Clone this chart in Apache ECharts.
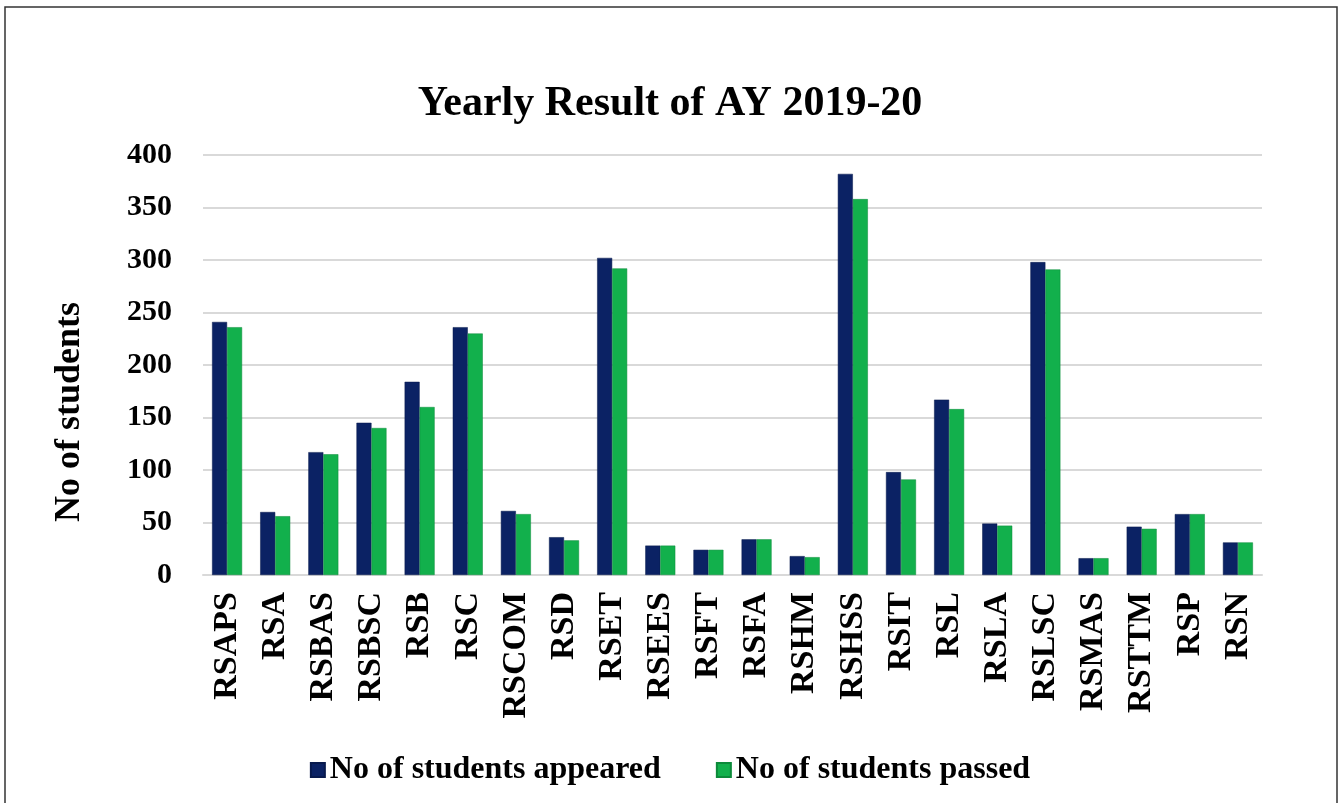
<!DOCTYPE html>
<html>
<head>
<meta charset="utf-8">
<script src="https://cdn.jsdelivr.net/npm/echarts@6/dist/echarts.min.js"></script>
<style>html,body{margin:0;padding:0;background:#fff;}#c{width:1340px;height:803px;}</style>
</head>
<body>
<div id="c"></div>
<script>
const categories = ['RSAPS','RSA','RSBAS','RSBSC','RSB','RSC','RSCOM','RSD','RSET','RSEES','RSFT','RSFA','RSHM','RSHSS','RSIT','RSL','RSLA','RSLSC','RSMAS','RSTTM','RSP','RSN'];
const appeared = [241,60,117,145,184,236,61,36,302,28,24,34,18,382,98,167,49,298,16,46,58,31];
const passed   = [236,56,115,140,160,230,58,33,292,28,24,34,17,358,91,158,47,291,16,44,58,31];
const yTicks = [0,50,100,150,200,250,300,350,400];

const FONT = '"Liberation Serif", "Times New Roman", serif';
const chart = echarts.init(document.getElementById('c'));
chart.setOption({
  backgroundColor: '#fff',
  animation: false,
  title: {
    text: 'Yearly Result of AY 2019-20',
    left: 'center', top: 78,
    textStyle: { fontFamily: FONT, fontWeight: 'bold', fontSize: 42, color: '#000' }
  },
  legend: {
    bottom: 12, left: 'center',
    itemWidth: 14, itemHeight: 14, itemGap: 55, icon: 'rect',
    textStyle: { fontFamily: FONT, fontWeight: 'bold', fontSize: 32, color: '#000' }
  },
  grid: { left: 203, right: 78, top: 155, bottom: 228 },
  xAxis: {
    type: 'category', data: categories,
    axisLine: { show: true, lineStyle: { color: '#d9d9d9', width: 2 } },
    axisTick: { show: false },
    axisLabel: { rotate: 90, margin: 17, interval: 0, fontFamily: FONT, fontWeight: 'bold', fontSize: 34, color: '#000' }
  },
  yAxis: {
    type: 'value', min: yTicks[0], max: yTicks[yTicks.length-1], interval: 50,
    axisLine: { show: false }, axisTick: { show: false },
    axisLabel: { margin: 31, padding: [10, 0, 0, 0], fontFamily: FONT, fontWeight: 'bold', fontSize: 30, color: '#000' },
    splitLine: { lineStyle: { color: '#d9d9d9', width: 2 } }
  },
  graphic: [
    { type: 'rect', shape: { x: 5, y: 7, width: 1332, height: 800 }, style: { fill: 'none', stroke: '#333', lineWidth: 1.5 }, silent: true },
    { type: 'text', x: 70, y: 412, rotation: Math.PI/2,
      style: { text: 'No of students', fontFamily: FONT, fontWeight: 'bold', fontSize: 36, fill: '#000', align: 'center', verticalAlign: 'middle' } }
  ],
  series: [
    { name: 'No of students appeared', type: 'bar', data: appeared, barWidth: 15, barGap: '0%',
      itemStyle: { color: '#0b2264', borderColor: '#081a4d', borderWidth: 0.5 } },
    { name: 'No of students passed', type: 'bar', data: passed, barWidth: 15,
      itemStyle: { color: '#12b04c', borderColor: '#0c8a3a', borderWidth: 0.5 } }
  ]
});
</script>
</body>
</html>
